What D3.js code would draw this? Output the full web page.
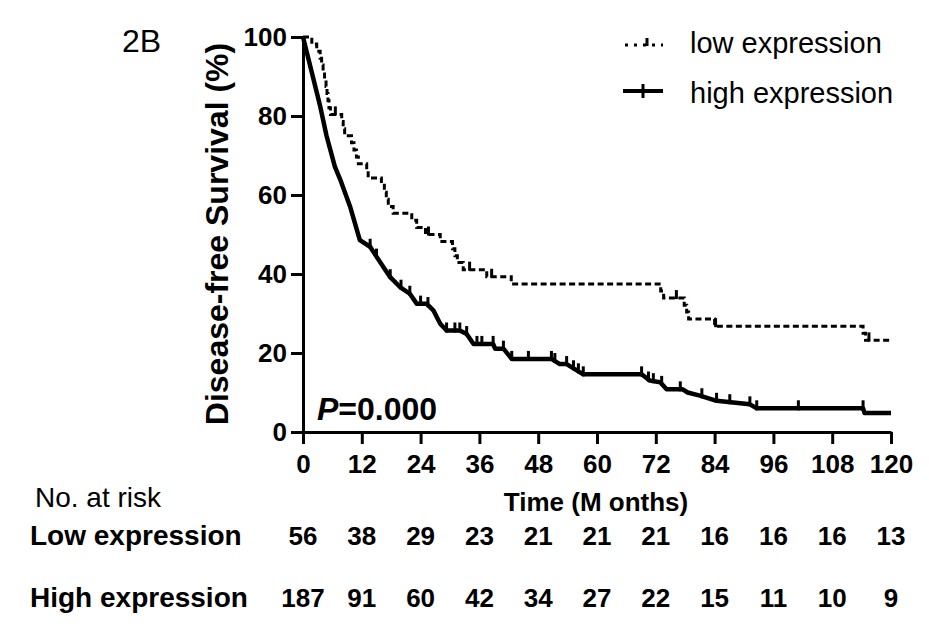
<!DOCTYPE html>
<html>
<head>
<meta charset="utf-8">
<script src="https://cdn.jsdelivr.net/npm/d3@7"></script>
<style>
  body { margin: 0; background: #fff; }
  svg text { font-family: "Liberation Sans", Arial, sans-serif; fill: #000; }
</style>
</head>
<body>
<div id="app"></div>
<script>
// tick values
const monthTicks = [0, 12, 24, 36, 48, 60, 72, 84, 96, 108, 120]
const survTicks = [0, 20, 40, 60, 80, 100]

// low expression: Kaplan-Meier steps (time in months, survival % after the step)
const lowTime = [0, 1.8, 2.8, 3.5, 3.8, 4.1, 4.4, 4.7, 4.9, 5.1, 5.3, 5.6, 7.9, 8.2, 8.5, 9.9, 10.4, 10.9, 11.3, 13.0,
    13.3, 16.0, 16.6, 17.0, 17.4, 18.4, 22.2, 23.2, 25.0, 28.0, 30.5, 31.0, 31.5, 32.7, 37.5, 42.5, 73.0, 73.6, 77.8, 78.3,
    78.7, 84.0, 114.3, 114.8, 120]
const lowSurv = [100, 98.2, 96.4, 94.6, 92.9, 91.1, 89.3, 87.5, 85.7, 83.9, 82.1, 80.4, 78.6, 76.8, 75.0, 73.2, 71.4, 69.6, 67.9, 66.1,
    64.3, 62.5, 60.7, 58.9, 57.1, 55.4, 53.6, 51.8, 50.0, 48.2, 46.4, 44.6, 42.9, 41.1, 39.3, 37.5, 35.7, 33.9, 32.1, 30.4,
    28.6, 26.8, 25.0, 23.2, 23.2]
const lowCensor = [6.6, 25.6, 34.0, 38.5, 76.2, 84.2, 115.5]

// high expression: vertices of the drawn curve (steps too dense to separate early on)
const highTime = [0, 1.8, 3.5, 4.8, 6.5, 7.6, 9.6, 11.6, 13.7, 15.0, 16.4, 17.8, 19.8, 21.8, 23.2, 25.2, 26.6, 28.0, 29.3, 32.0,
    33.4, 34.8, 38.8, 39.2, 40.9, 42.6, 50.7, 52.4, 53.8, 57.2, 69.1, 70.8, 72.9, 74.2, 77.5, 78.5, 81.0, 84.4, 91.2, 92.6,
    114.3, 114.6, 120]
const highSurv = [100, 91, 82.5, 75, 67.2, 63.9, 57.1, 48.6, 46.9, 44.4, 41.8, 39.2, 36.7, 35.0, 32.5, 32.5, 30.8, 27.4, 25.7, 25.7,
    24.8, 22.3, 22.3, 21.1, 21.1, 18.5, 18.5, 17.2, 17.2, 14.6, 14.6, 13.0, 12.6, 10.8, 10.8, 10.0, 9.2, 7.9, 7.0, 6.0,
    6.0, 4.8, 4.8]
const highCensor = [13.7, 15.0, 17.8, 20.0, 21.8, 24.0, 25.5, 29.3, 31.0, 32.0, 33.4, 35.5, 36.5, 38.8, 40.9, 42.6, 46.0, 50.7,
    51.4, 53.8, 55.2, 56.2, 57.2, 69.1, 70.5, 71.5, 73.2, 77.0, 81.4, 84.4, 87.1, 91.2, 92.6, 101.1, 114.3]

// numbers at risk at each month tick
const lowAtRisk = [56, 38, 29, 23, 21, 21, 21, 16, 16, 16, 13]
const highAtRisk = [187, 91, 60, 42, 34, 27, 22, 15, 11, 10, 9]

const svg = d3.select('#app').append('svg')
    .attr('width', 929)
    .attr('height', 628)

const x = d3.scaleLinear().domain([0, 120]).range([303, 891])
const y = d3.scaleLinear().domain([0, 100]).range([432, 37])

// axes
svg.append('g')
    .attr('transform', 'translate(0,432)')
    .call(d3.axisBottom(x).tickValues(monthTicks).tickSize(12).tickSizeOuter(0).tickPadding(11))
svg.append('g')
    .attr('transform', 'translate(303,0)')
    .call(d3.axisLeft(y).tickValues(survTicks).tickSize(12).tickSizeOuter(0).tickPadding(4))

svg.selectAll('.domain, .tick line')
    .attr('stroke', '#000')
    .attr('stroke-width', 3)
svg.selectAll('.tick text')
    .style('font-size', '26px')
    .style('font-weight', 'bold')
    .style('font-family', '"Liberation Sans", Arial, sans-serif')

// curves
const lowLine = d3.line()
    .x((d, i) => x(lowTime[i]))
    .y(d => y(d))
    .curve(d3.curveStepAfter)
const highLine = d3.line()
    .x((d, i) => x(highTime[i]))
    .y(d => y(d))

svg.append('path')
    .attr('d', lowLine(lowSurv))
    .attr('fill', 'none')
    .attr('stroke', '#000')
    .attr('stroke-width', 3)
    .attr('stroke-dasharray', '6,3.5')
svg.append('path')
    .attr('d', highLine(highSurv))
    .attr('fill', 'none')
    .attr('stroke', '#000')
    .attr('stroke-width', 4.5)
    .attr('stroke-linejoin', 'round')

// censor ticks
const lowAt = t => lowSurv[d3.bisectRight(lowTime, t) - 1]
const highAt = d3.scaleLinear().domain(highTime).range(highSurv)

svg.append('g').selectAll('line')
    .data(lowCensor)
    .enter()
    .append('line')
    .attr('x1', d => x(d)).attr('x2', d => x(d))
    .attr('y1', d => y(lowAt(d)) - 8).attr('y2', d => y(lowAt(d)) + 1)
    .attr('stroke', '#000').attr('stroke-width', 3)
svg.append('g').selectAll('line')
    .data(highCensor)
    .enter()
    .append('line')
    .attr('x1', d => x(d)).attr('x2', d => x(d))
    .attr('y1', d => y(highAt(d)) - 8).attr('y2', d => y(highAt(d)) + 2)
    .attr('stroke', '#000').attr('stroke-width', 3)

// legend
svg.append('line')
    .attr('x1', 625).attr('x2', 663).attr('y1', 45).attr('y2', 45)
    .attr('stroke', '#000').attr('stroke-width', 3).attr('stroke-dasharray', '3,6')
svg.append('line')
    .attr('x1', 647).attr('x2', 647).attr('y1', 38).attr('y2', 46)
    .attr('stroke', '#000').attr('stroke-width', 3)
svg.append('line')
    .attr('x1', 623).attr('x2', 663).attr('y1', 91).attr('y2', 91)
    .attr('stroke', '#000').attr('stroke-width', 4)
svg.append('line')
    .attr('x1', 643).attr('x2', 643).attr('y1', 84).attr('y2', 98)
    .attr('stroke', '#000').attr('stroke-width', 3)
svg.append('text').attr('x', 690).attr('y', 53).style('font-size', '29px').text('low expression')
svg.append('text').attr('x', 690).attr('y', 103).style('font-size', '29px').text('high expression')

// labels
svg.append('text').attr('x', 122).attr('y', 52).style('font-size', '32px').text('2B')
svg.append('text')
    .attr('transform', 'translate(228,234) rotate(-90)')
    .attr('text-anchor', 'middle')
    .style('font-size', '32px').style('font-weight', 'bold')
    .text('Disease-free Survival (%)')

const pText = svg.append('text').attr('x', 317).attr('y', 420)
    .style('font-size', '32px').style('font-weight', 'bold')
pText.append('tspan').style('font-style', 'italic').text('P')
pText.append('tspan').text('=0.000')

svg.append('text').attr('x', 596).attr('y', 511).attr('text-anchor', 'middle')
    .style('font-size', '26px').style('font-weight', 'bold')
    .text('Time (M onths)')

svg.append('text').attr('x', 35).attr('y', 507).style('font-size', '28px').text('No. at risk')
svg.append('text').attr('x', 30).attr('y', 545).style('font-size', '28px').style('font-weight', 'bold').text('Low expression')
svg.append('text').attr('x', 30).attr('y', 607).style('font-size', '28px').style('font-weight', 'bold').text('High expression')

svg.append('g').selectAll('text')
    .data(lowAtRisk)
    .enter()
    .append('text')
    .attr('x', (d, i) => x(monthTicks[i]))
    .attr('y', 545)
    .attr('text-anchor', 'middle')
    .style('font-size', '26px').style('font-weight', 'bold')
    .text(d => d)
svg.append('g').selectAll('text')
    .data(highAtRisk)
    .enter()
    .append('text')
    .attr('x', (d, i) => x(monthTicks[i]))
    .attr('y', 607)
    .attr('text-anchor', 'middle')
    .style('font-size', '26px').style('font-weight', 'bold')
    .text(d => d)
</script>
</body>
</html>
